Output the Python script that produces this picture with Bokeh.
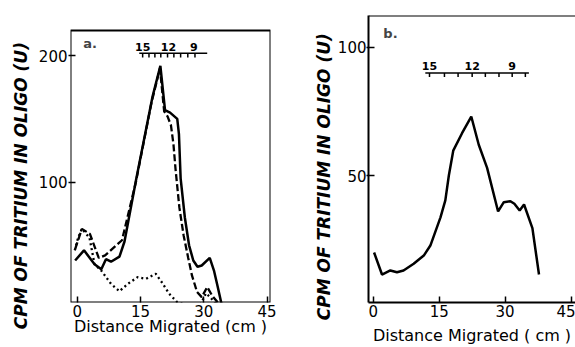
from bokeh.plotting import figure
from bokeh.layouts import row
from bokeh.models import Label, FixedTicker, Range1d, Span, BoxAnnotation
from bokeh.core.properties import value
from bokeh.embed import file_html
from bokeh.resources import INLINE

# ---------------- data : panel a ----------------
a_solid_x = [-0.5, 1.6, 4.1, 5.7, 6.8, 8.0, 10.0, 11.2, 13.9, 17.8, 19.7, 20.8, 22.0, 23.7, 24.1, 24.5, 25.5, 26.5, 27.5, 28.5, 29.5, 31.4, 32.4, 33.3, 34.3]
a_solid_y = [38, 46, 35, 31, 39, 37, 41, 53, 101, 167, 192, 157, 155, 150, 138, 103, 72, 50, 38, 33, 34, 40, 30, 17, 2]
a_dash_x = [-0.5, 1.1, 3.0, 5.1, 6.6, 10.6, 13.9, 17.6, 19.6, 20.6, 21.4, 22.2, 22.8, 23.3, 24.2, 25.2, 26.3, 27.2, 28.4, 29.5, 30.8, 32.0, 34.0]
a_dash_y = [47, 63, 59, 40, 42, 54, 100, 163, 190, 156, 152, 145, 130, 110, 80, 58, 40, 26, 13, 9, 17, 10, 2]
a_dot_x = [-0.6, 0.2, 1.1, 2.9, 4.1, 5.7, 8.0, 10.0, 12.0, 14.3, 16.3, 18.6, 20.2, 21.8, 23.7, 25.7, 29.2, 30.5, 31.5, 33.0]
a_dot_y = [46, 56, 63, 56, 35, 30, 19.5, 13.7, 19.5, 24.8, 23.5, 27.5, 20, 11.6, 5, 3, 3, 12, 9, 3]
a_scale_ticks = [15.5, 17.0, 18.4, 19.8, 21.4, 22.9, 24.5, 26.2, 27.9]
a_scale_span = [14.7, 30.8]
a_scale_level = 202
a_scale_labels = ["15", "12", "9"]
a_scale_label_x = [15.5, 21.6, 27.6]
a_box_top = 220

# ---------------- data : panel b ----------------
b_x = [0.2, 2.0, 3.9, 5.4, 6.9, 9.2, 11.5, 13.0, 15.3, 16.4, 17.2, 18.2, 20.2, 22.3, 24.0, 25.9, 28.4, 29.7, 31.2, 32.1, 33.3, 34.3, 36.2, 37.7]
b_y = [20, 11.4, 13, 12.3, 13, 15.6, 18.8, 22.7, 33.7, 40.3, 50, 59.7, 66.5, 73, 62, 53, 36, 39.6, 40, 39, 36.4, 38.7, 29.5, 11.4]
b_scale_ticks = [12.8, 16.2, 19.3, 22.5, 25.5, 28.6, 31.6, 34.6]
b_scale_span = [11.85, 35.4]
b_scale_level = 90
b_scale_labels = ["15", "12", "9"]
b_scale_label_x = [12.8, 22.5, 31.6]

x_ticks = [0, 15, 30, 45]
a_y_ticks = [100, 200]
b_y_ticks = [50, 100]
y_title = "CPM  OF  TRITIUM  IN  OLIGO (U)"
a_x_title = "Distance Migrated (cm )"
b_x_title = "Distance Migrated ( cm )"

FONT = "DejaVu Sans"
NB = "\u00a0"


def style(p, yticks, yin, ystand, xstand):
    p.xaxis.ticker = FixedTicker(ticks=x_ticks)
    p.yaxis.ticker = FixedTicker(ticks=yticks)
    p.grid.visible = False
    for ax in (p.xaxis[0], p.yaxis[0]):
        ax.minor_tick_line_color = None
        ax.major_tick_line_color = "black"
        ax.major_tick_line_width = 1.5
        ax.major_label_text_font = FONT
        ax.major_label_text_font_size = "15px"
        ax.major_label_text_color = "black"
        ax.axis_label_text_color = "black"
        ax.axis_label_text_font = FONT
    p.xaxis.major_tick_in = 6
    p.xaxis.major_tick_out = 0
    p.xaxis.major_label_standoff = xstand
    p.yaxis.major_tick_in = yin
    p.yaxis.major_tick_out = 2
    p.yaxis.major_label_standoff = ystand
    p.xaxis.axis_label_text_font_size = "16px"
    p.xaxis.axis_label_text_font_style = "normal"
    p.yaxis.axis_label_text_font_size = "17px"
    p.yaxis.axis_label_text_font_style = "bold italic"


# shared frame (Bokeh aligns frames of plots in a row): top 15px, bottom 302px
# ---------------- panel a ----------------
pa = figure(width=292, height=347, x_range=Range1d(-1.6, 45.8), y_range=Range1d(4.75, 231.8),
            output_backend="svg", toolbar_location=None,
            min_border_left=70, min_border_right=22, min_border_top=15, min_border_bottom=45)
style(pa, a_y_ticks, 5, 1, 2)
pa.axis.axis_line_color = None
pa.outline_line_color = None
pa.add_layout(BoxAnnotation(top=a_box_top, fill_color=None, fill_alpha=0,
                            line_color="black", line_width=2, line_alpha=1))
pa.yaxis.axis_label = y_title + NB * 5
pa.yaxis.axis_label_standoff = 5
pa.xaxis.axis_label = a_x_title
pa.xaxis.axis_label_standoff = -3

pa.line(a_solid_x, a_solid_y, line_color="black", line_width=2.5)
pa.line(a_dash_x, a_dash_y, line_color="black", line_width=2.3, line_dash="7 3")
pa.line(a_dot_x, a_dot_y, line_color="black", line_width=2.3, line_dash="2 3")

pa.line(a_scale_span, [a_scale_level] * 2, line_color="black", line_width=1.5)
pa.segment(a_scale_ticks, [a_scale_level] * len(a_scale_ticks), a_scale_ticks,
           [a_scale_level - 3.5] * len(a_scale_ticks), line_color="black", line_width=1.5)
pa.text(a_scale_label_x, [a_scale_level + 2] * 3, text=a_scale_labels, text_font=value(FONT),
        text_font_size="11px", text_font_style="bold", text_align="center", text_baseline="bottom")
pa.add_layout(Label(x=1.4, y=209.6, text="a.", text_font=FONT, text_font_size="13px",
                    text_font_style="bold", text_baseline="middle"))

# ---------------- panel b ----------------
pb = figure(width=283, height=347, x_range=Range1d(-1.07, 46.0), y_range=Range1d(0.5, 112.4),
            output_backend="svg", toolbar_location=None,
            min_border_left=76, min_border_right=0, min_border_top=15, min_border_bottom=45)
style(pb, b_y_ticks, 6, 0, 2)
pb.outline_line_color = None
pb.axis.axis_line_color = "black"
pb.axis.axis_line_width = 2
pb.add_layout(Span(location=112.4, dimension="width", line_color="black", line_width=2))
pb.yaxis.axis_label = y_title + NB * 2
pb.yaxis.axis_label_standoff = 1
pb.xaxis.axis_label = b_x_title
pb.xaxis.axis_label_standoff = 6

pb.line(b_x, b_y, line_color="black", line_width=2.5)
pb.line(b_scale_span, [b_scale_level] * 2, line_color="black", line_width=1.5)
pb.segment(b_scale_ticks, [b_scale_level] * len(b_scale_ticks), b_scale_ticks,
           [b_scale_level - 1.6] * len(b_scale_ticks), line_color="black", line_width=1.5)
pb.text(b_scale_label_x, [b_scale_level + 1.2] * 3, text=b_scale_labels, text_font=value(FONT),
        text_font_size="11px", text_font_style="bold", text_align="center", text_baseline="bottom")
pb.add_layout(Label(x=2.3, y=105.3, text="b.", text_font=FONT, text_font_size="13px",
                    text_font_style="bold", text_baseline="middle"))

layout = row(pa, pb, spacing=0)
open("out.html", "w").write(file_html(layout, INLINE))
